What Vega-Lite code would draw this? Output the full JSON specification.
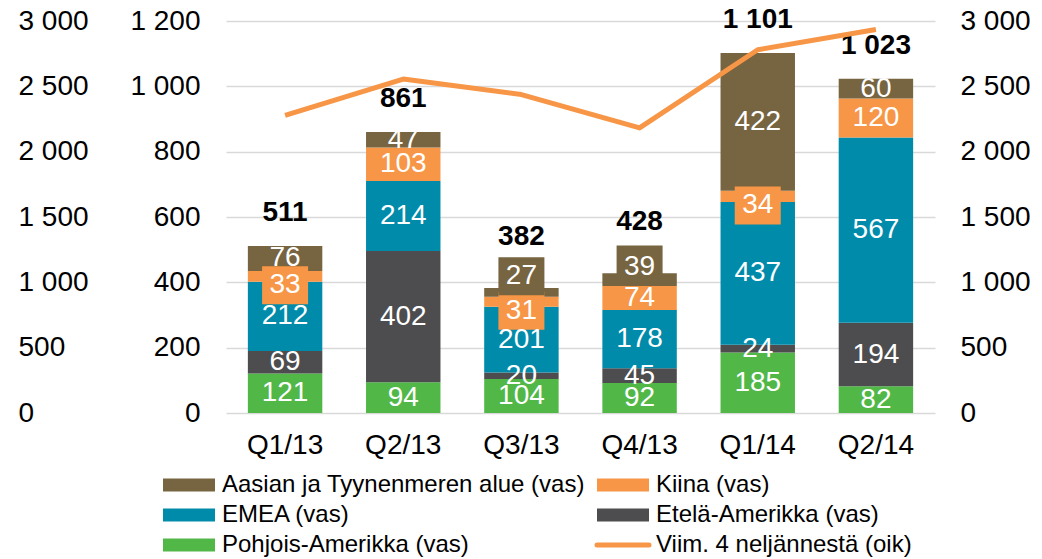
{
  "$schema": "https://vega.github.io/schema/vega-lite/v6.json",
  "width": 709,
  "height": 392,
  "autosize": {"type": "none"},
  "padding": {"left": 226, "top": 21, "right": 107, "bottom": 146},
  "background": "white",
  "config": {
    "font": "Liberation Sans",
    "view": {"stroke": null},
    "locale": {"number": {"decimal": ",", "thousands": " ", "grouping": [3], "currency": ["", " €"]}},
    "axis": {"domain": false, "ticks": false, "labelFontSize": 28, "labelColor": "#000000", "title": null, "labelFont": "Liberation Sans"}
  },
  "datasets": {
    "segments": [
      {"q": "Q1/13", "series": "Pohjois-Amerikka (vas)", "value": 121},
      {"q": "Q1/13", "series": "Etelä-Amerikka (vas)", "value": 69},
      {"q": "Q1/13", "series": "EMEA (vas)", "value": 212},
      {"q": "Q1/13", "series": "Kiina (vas)", "value": 33},
      {"q": "Q1/13", "series": "Aasian ja Tyynenmeren alue (vas)", "value": 76},
      {"q": "Q2/13", "series": "Pohjois-Amerikka (vas)", "value": 94},
      {"q": "Q2/13", "series": "Etelä-Amerikka (vas)", "value": 402},
      {"q": "Q2/13", "series": "EMEA (vas)", "value": 214},
      {"q": "Q2/13", "series": "Kiina (vas)", "value": 103},
      {"q": "Q2/13", "series": "Aasian ja Tyynenmeren alue (vas)", "value": 47},
      {"q": "Q3/13", "series": "Pohjois-Amerikka (vas)", "value": 104},
      {"q": "Q3/13", "series": "Etelä-Amerikka (vas)", "value": 20},
      {"q": "Q3/13", "series": "EMEA (vas)", "value": 201},
      {"q": "Q3/13", "series": "Kiina (vas)", "value": 31},
      {"q": "Q3/13", "series": "Aasian ja Tyynenmeren alue (vas)", "value": 27},
      {"q": "Q4/13", "series": "Pohjois-Amerikka (vas)", "value": 92},
      {"q": "Q4/13", "series": "Etelä-Amerikka (vas)", "value": 45},
      {"q": "Q4/13", "series": "EMEA (vas)", "value": 178},
      {"q": "Q4/13", "series": "Kiina (vas)", "value": 74},
      {"q": "Q4/13", "series": "Aasian ja Tyynenmeren alue (vas)", "value": 39},
      {"q": "Q1/14", "series": "Pohjois-Amerikka (vas)", "value": 185},
      {"q": "Q1/14", "series": "Etelä-Amerikka (vas)", "value": 24},
      {"q": "Q1/14", "series": "EMEA (vas)", "value": 437},
      {"q": "Q1/14", "series": "Kiina (vas)", "value": 34},
      {"q": "Q1/14", "series": "Aasian ja Tyynenmeren alue (vas)", "value": 422},
      {"q": "Q2/14", "series": "Pohjois-Amerikka (vas)", "value": 82},
      {"q": "Q2/14", "series": "Etelä-Amerikka (vas)", "value": 194},
      {"q": "Q2/14", "series": "EMEA (vas)", "value": 567},
      {"q": "Q2/14", "series": "Kiina (vas)", "value": 120},
      {"q": "Q2/14", "series": "Aasian ja Tyynenmeren alue (vas)", "value": 60}
    ],
    "totals": [
      {"q": "Q1/13", "total": 511},
      {"q": "Q2/13", "total": 861},
      {"q": "Q3/13", "total": 382},
      {"q": "Q4/13", "total": 428},
      {"q": "Q1/14", "total": 1101},
      {"q": "Q2/14", "total": 1023}
    ],
    "rolling": [
      {"q": "Q1/13", "value": 2277},
      {"q": "Q2/13", "value": 2556},
      {"q": "Q3/13", "value": 2437},
      {"q": "Q4/13", "value": 2182},
      {"q": "Q1/14", "value": 2780},
      {"q": "Q2/14", "value": 2935}
    ]
  },
  "layer": [
    {
      "layer": [
        {
          "data": {"name": "segments"},
          "transform": [{"window": [{"op": "row_number", "as": "rank"}], "groupby": ["q"]}],
          "mark": {"type": "bar"},
          "encoding": {
            "x": {"field": "q", "type": "nominal", "sort": ["Q1/13", "Q2/13", "Q3/13", "Q4/13", "Q1/14", "Q2/14"],
                  "scale": {"paddingInner": 0.37, "paddingOuter": 0.185},
                  "axis": {"labelAngle": 0, "labelPadding": 32, "labelBaseline": "middle"}},
            "y": {"field": "value", "type": "quantitative", "stack": "zero",
                  "scale": {"domain": [0, 1200], "nice": false},
                  "axis": {"orient": "left", "values": [0, 200, 400, 600, 800, 1000, 1200], "format": ",d", "grid": true, "gridColor": "#D9D9D9", "gridWidth": 1.5, "labelPadding": 26}},
            "color": {"field": "series", "type": "nominal",
                      "scale": {"domain": ["Aasian ja Tyynenmeren alue (vas)", "Kiina (vas)", "EMEA (vas)", "Etelä-Amerikka (vas)", "Pohjois-Amerikka (vas)", "Viim. 4 neljännestä (oik)"],
                                "range": ["#776441", "#F79646", "#008BAA", "#4D4D4F", "#51B848", "#F79646"]},
                      "legend": {
                        "title": null, "orient": "none", "legendX": -68, "legendY": 452, "direction": "horizontal", "columns": 2,
                        "labelFontSize": 24, "labelFont": "Liberation Sans", "labelColor": "#000000", "labelLimit": 600,
                        "symbolSize": 196, "labelOffset": 40, "columnPadding": 2, "rowPadding": 6, "padding": 0,
                        "encode": {"symbols": {"update": {
                          "shape": {"signal": "datum.value === 'Viim. 4 neljännestä (oik)' ? 'M-1,0L6.43,0' : 'M-1,-0.93L6.43,-0.93L6.43,0.93L-1,0.93Z'"},
                          "fill": {"signal": "datum.value === 'Viim. 4 neljännestä (oik)' ? 'transparent' : scale('color', datum.value)"},
                          "stroke": {"signal": "datum.value === 'Viim. 4 neljännestä (oik)' ? '#F79646' : 'transparent'"},
                          "strokeWidth": {"signal": "datum.value === 'Viim. 4 neljännestä (oik)' ? 5 : 0"},
                          "strokeCap": {"value": "round"},
                          "opacity": {"value": 1},
                          "fillOpacity": {"value": 1}
                        }}}
                      }},
            "order": {"field": "rank", "type": "quantitative", "sort": "ascending"}
          }
        },
        {
          "data": {"name": "segments"},
          "transform": [{"window": [{"op": "row_number", "as": "rank"}], "groupby": ["q"]}],
          "mark": {"type": "point", "filled": true, "size": 400, "strokeWidth": 0,
                   "opacity": {"expr": "datum.value < 40 && (datum.series == 'Kiina (vas)' || datum.series == 'Aasian ja Tyynenmeren alue (vas)') ? 1 : 0"},
                   "shape": {"expr": "'M-2.3,' + ((datum.value*392/2400 + (datum.series == 'Kiina (vas)' ? 9 : (datum.q == 'Q3/13' ? -16 : -15)))/10 - 1.9) + 'L2.3,' + ((datum.value*392/2400 + (datum.series == 'Kiina (vas)' ? 9 : (datum.q == 'Q3/13' ? -16 : -15)))/10 - 1.9) + 'L2.3,' + ((datum.value*392/2400 + (datum.series == 'Kiina (vas)' ? 9 : (datum.q == 'Q3/13' ? -16 : -15)))/10 + 1.9) + 'L-2.3,' + ((datum.value*392/2400 + (datum.series == 'Kiina (vas)' ? 9 : (datum.q == 'Q3/13' ? -16 : -15)))/10 + 1.9) + 'Z'"}},
          "encoding": {
            "x": {"field": "q", "type": "nominal", "sort": ["Q1/13", "Q2/13", "Q3/13", "Q4/13", "Q1/14", "Q2/14"]},
            "y": {"field": "value", "type": "quantitative", "stack": "zero"},
            "color": {"field": "series", "type": "nominal", "legend": null},
            "detail": {"field": "series"},
            "order": {"field": "rank", "type": "quantitative", "sort": "ascending"}
          }
        },
        {
          "data": {"name": "segments"},
          "transform": [{"window": [{"op": "row_number", "as": "rank"}], "groupby": ["q"]}],
          "mark": {"type": "text", "color": "#FFFFFF", "fontSize": 28, "baseline": "middle", "align": "center",
                   "dy": {"expr": "datum.value*392/2400 + (datum.value < 40 && datum.series == 'Kiina (vas)' ? 9 : (datum.value < 40 && datum.series == 'Aasian ja Tyynenmeren alue (vas)' ? (datum.q == 'Q3/13' ? -16 : -13) : 0))"}},
          "encoding": {
            "x": {"field": "q", "type": "nominal", "sort": ["Q1/13", "Q2/13", "Q3/13", "Q4/13", "Q1/14", "Q2/14"]},
            "y": {"field": "value", "type": "quantitative", "stack": "zero"},
            "detail": {"field": "series"},
            "order": {"field": "rank", "type": "quantitative", "sort": "ascending"},
            "text": {"field": "value", "type": "quantitative", "format": "d"}
          }
        },
        {
          "data": {"name": "totals"},
          "mark": {"type": "text", "color": "#000000", "fontSize": 28, "fontWeight": "bold", "baseline": "middle", "align": "center",
                   "dy": {"expr": "datum.q == 'Q3/13' || datum.q == 'Q4/13' ? -51 : -33"}},
          "encoding": {
            "x": {"field": "q", "type": "nominal", "sort": ["Q1/13", "Q2/13", "Q3/13", "Q4/13", "Q1/14", "Q2/14"]},
            "y": {"field": "total", "type": "quantitative"},
            "text": {"field": "total", "type": "quantitative", "format": ",d"}
          }
        }
      ]
    },
    {
      "data": {"name": "rolling"},
      "mark": {"type": "line", "strokeWidth": 5, "strokeJoin": "round"},
      "encoding": {
        "x": {"field": "q", "type": "nominal", "sort": ["Q1/13", "Q2/13", "Q3/13", "Q4/13", "Q1/14", "Q2/14"]},
        "y": {"field": "value", "type": "quantitative", "scale": {"domain": [0, 3000], "nice": false},
              "axis": {"orient": "right", "values": [0, 500, 1000, 1500, 2000, 2500, 3000], "format": ",d", "grid": false, "labelPadding": 25}},
        "color": {"datum": "Viim. 4 neljännestä (oik)", "type": "nominal"}
      }
    },
    {
      "data": {"name": "rolling"},
      "mark": {"type": "line", "opacity": 0},
      "encoding": {
        "x": {"field": "q", "type": "nominal", "sort": ["Q1/13", "Q2/13", "Q3/13", "Q4/13", "Q1/14", "Q2/14"]},
        "y": {"field": "value", "type": "quantitative", "scale": {"domain": [0, 3000], "nice": false},
              "axis": {"orient": "left", "values": [0, 500, 1000, 1500, 2000, 2500, 3000], "format": ",d", "grid": false, "labelAlign": "left", "labelPadding": 208}}
      }
    }
  ],
  "resolve": {"scale": {"y": "independent"}, "axis": {"y": "independent"}}
}
